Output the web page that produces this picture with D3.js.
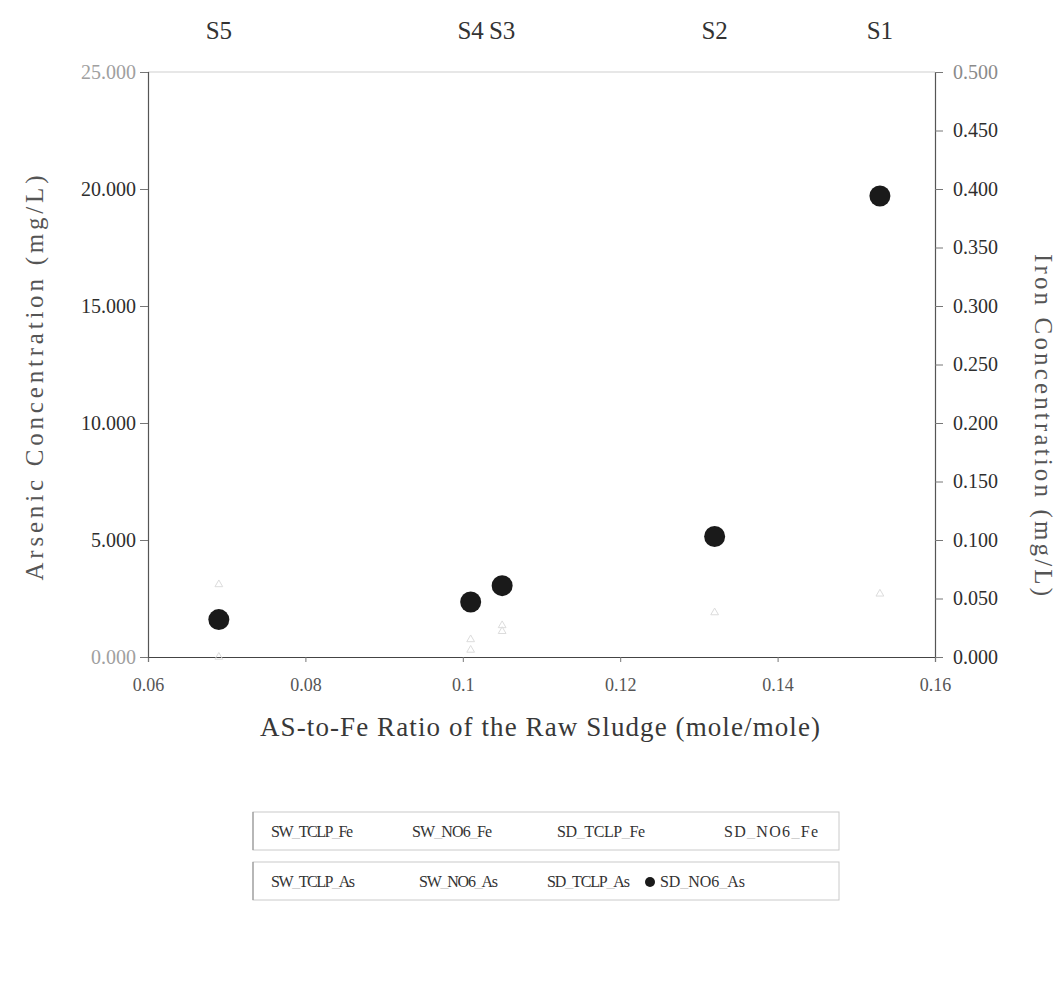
<!DOCTYPE html>
<html>
<head>
<meta charset="utf-8">
<script src="https://cdn.jsdelivr.net/npm/d3@7"></script>
<style>
  html, body { margin: 0; padding: 0; background: #fff; }
  svg { display: block; font-family: "Liberation Serif", "Times New Roman", serif; }
</style>
</head>
<body>
<svg id="chart" width="1063" height="983"></svg>
<script>
// Sludge samples and their As-to-Fe mole ratio
const samples = ["S5", "S4", "S3", "S2", "S1"];
const ratio = [0.069, 0.101, 0.105, 0.132, 0.153];

// Arsenic leached (mg/L)
const sdNo6As = [1.6, 2.35, 3.05, 5.15, 19.7];
const swTclpAs = [3.1, 0.75, 1.35, 1.9, 2.7];
const swNo6As = [0.0, 0.3, 1.1, null, null];

// Axis ticks
const xTicks = [0.06, 0.08, 0.1, 0.12, 0.14, 0.16];
const asTicks = [0, 5, 10, 15, 20, 25];
const feTicks = [0, 0.05, 0.1, 0.15, 0.2, 0.25, 0.3, 0.35, 0.4, 0.45, 0.5];

// Legend rows
const legendFe = ["SW_TCLP_Fe", "SW_NO6_Fe", "SD_TCLP_Fe", "SD_NO6_Fe"];
const legendAs = ["SW_TCLP_As", "SW_NO6_As", "SD_TCLP_As", "SD_NO6_As"];

const svg = d3.select("#chart");
const plot = { left: 148, right: 935, top: 72, bottom: 657 };

const x = d3.scaleLinear().domain([0.06, 0.16]).range([plot.left, plot.right]);
const yAs = d3.scaleLinear().domain([0, 25]).range([plot.bottom, plot.top]);
const yFe = d3.scaleLinear().domain([0, 0.5]).range([plot.bottom, plot.top]);

const ink = "#2e2e2e";

// frame top edge
svg.append("line")
  .attr("x1", plot.left).attr("x2", plot.right)
  .attr("y1", plot.top).attr("y2", plot.top)
  .attr("stroke", "#cfcfcf").attr("stroke-width", 1);

// x axis
const xAxis = svg.append("g")
  .attr("transform", `translate(0,${plot.bottom})`)
  .call(d3.axisBottom(x).tickValues(xTicks).tickSize(5).tickPadding(16)
    .tickFormat(d => d === 0.1 ? "0.1" : d3.format(".2f")(d)));
// left axis
const lAxis = svg.append("g")
  .attr("transform", `translate(${plot.left},0)`)
  .call(d3.axisLeft(yAs).tickValues(asTicks).tickSize(8).tickPadding(4)
    .tickFormat(d3.format(".3f")));
// right axis
const rAxis = svg.append("g")
  .attr("transform", `translate(${plot.right},0)`)
  .call(d3.axisRight(yFe).tickValues(feTicks).tickSize(8).tickPadding(10)
    .tickFormat(d3.format(".3f")));

[xAxis, lAxis, rAxis].forEach(g => {
  g.select(".domain").attr("stroke", "#555").attr("stroke-width", 1.2);
  g.selectAll(".tick line").attr("stroke", "#777");
  g.selectAll(".tick text").attr("fill", ink).attr("font-size", 20)
    .attr("font-family", "Liberation Serif, serif");
});
xAxis.select(".domain").attr("stroke", "#444");
// the end labels are printed faintly
lAxis.selectAll(".tick text").filter(d => d === 25 || d === 0).attr("fill", "#a0a0a0");
rAxis.selectAll(".tick text").filter(d => d === 0.5).attr("fill", "#8a8a8a");
xAxis.selectAll(".tick text").attr("fill", "#555").attr("font-size", 18);

// sample names along the top
svg.append("g").selectAll("text").data(samples).join("text")
  .attr("x", (d, i) => x(ratio[i]))
  .attr("y", 39)
  .attr("text-anchor", "middle")
  .attr("font-size", 25)
  .attr("fill", "#333")
  .text(d => d);

// axis titles
svg.append("text")
  .attr("transform", `translate(43,378) rotate(-90)`)
  .attr("text-anchor", "middle")
  .attr("font-size", 25)
  .attr("textLength", 405)
  .attr("lengthAdjust", "spacing")
  .attr("fill", "#555")
  .text("Arsenic Concentration (mg/L)");
svg.append("text")
  .attr("transform", `translate(1035,425) rotate(90)`)
  .attr("text-anchor", "middle")
  .attr("font-size", 25)
  .attr("textLength", 342)
  .attr("lengthAdjust", "spacing")
  .attr("fill", "#555")
  .text("Iron Concentration (mg/L)");
svg.append("text")
  .attr("x", 540)
  .attr("y", 736)
  .attr("text-anchor", "middle")
  .attr("font-size", 27)
  .attr("textLength", 560)
  .attr("lengthAdjust", "spacing")
  .attr("fill", "#383838")
  .text("AS-to-Fe Ratio of the Raw Sludge (mole/mole)");

// faint series
[swTclpAs, swNo6As].forEach(vals => {
  svg.append("g").selectAll("path")
    .data(vals.map((v, i) => ({ v, r: ratio[i] })).filter(d => d.v !== null))
    .join("path")
    .attr("transform", d => `translate(${x(d.r)},${yAs(d.v)})`)
    .attr("d", d3.symbol(d3.symbolTriangle, 26))
    .attr("fill", "none")
    .attr("stroke", "#dcdcdc")
    .attr("stroke-width", 1);
});

// SD NO6 arsenic
svg.append("g").selectAll("circle")
  .data(sdNo6As.map((v, i) => ({ v, r: ratio[i] })))
  .join("circle")
  .attr("cx", d => x(d.r))
  .attr("cy", d => yAs(d.v))
  .attr("r", 10.5)
  .attr("fill", "#1a1a1a");

// legends: underscores printed faintly
function legendBox(y, items, starts, lengths, markIndex) {
  const g = svg.append("g");
  g.append("rect")
    .attr("x", 253).attr("y", y)
    .attr("width", 586).attr("height", 38)
    .attr("fill", "none").attr("stroke", "#cacaca");
  g.append("line")
    .attr("x1", 253).attr("x2", 253).attr("y1", y).attr("y2", y + 38)
    .attr("stroke", "#8a8a8a");
  items.forEach((t, i) => {
    const txt = g.append("text")
      .attr("x", starts[i]).attr("y", y + 25)
      .attr("font-size", 16)
      .attr("textLength", lengths[i])
      .attr("lengthAdjust", "spacing")
      .attr("fill", "#333");
    t.split("_").forEach((part, k) => {
      if (k > 0) txt.append("tspan").attr("fill", "#d0d0d0").text("_");
      txt.append("tspan").text(part);
    });
  });
  if (markIndex !== null) {
    g.append("circle")
      .attr("cx", starts[markIndex] - 10).attr("cy", y + 20)
      .attr("r", 5).attr("fill", "#1a1a1a");
  }
}
legendBox(812, legendFe, [271, 412, 557, 724], [82, 80, 88, 94], null);
legendBox(862, legendAs, [271, 419, 547, 660], [84, 79, 83, 85], 3);
</script>
</body>
</html>
